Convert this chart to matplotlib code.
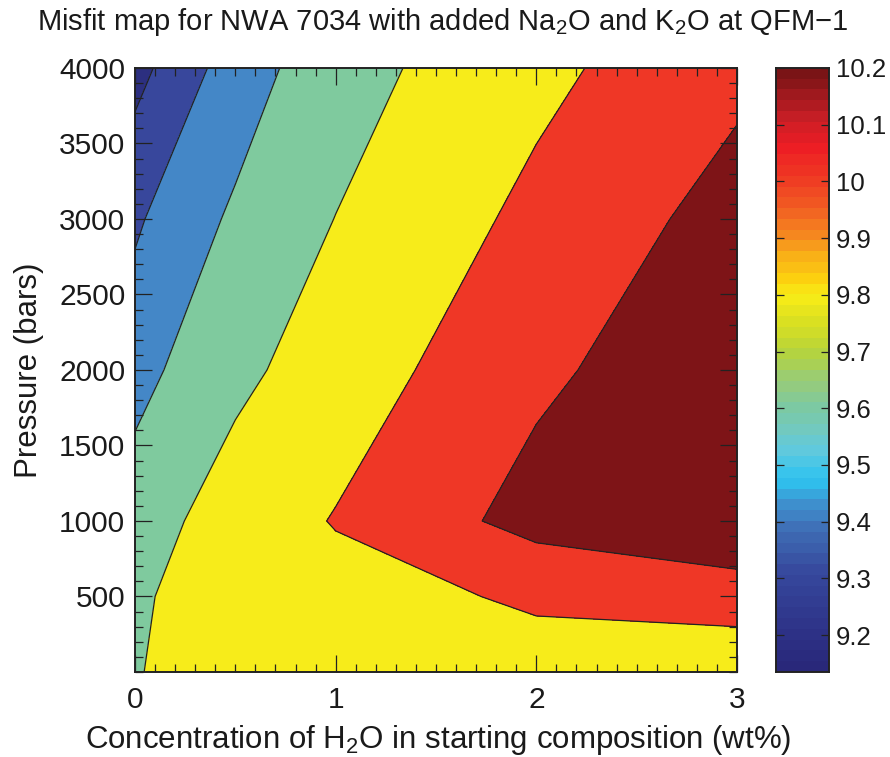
import numpy as np
import matplotlib
matplotlib.use("Agg")
import matplotlib.pyplot as plt
from matplotlib.colors import LinearSegmentedColormap, ListedColormap, BoundaryNorm
from matplotlib.ticker import MultipleLocator

plt.rcParams['font.family'] = ['Liberation Sans', 'DejaVu Sans']
plt.rcParams['mathtext.fontset'] = 'custom'
plt.rcParams['mathtext.rm'] = 'Liberation Sans'
plt.rcParams['mathtext.it'] = 'Liberation Sans'

# grid of water contents (wt%) and pressures (bars)
h2o = [0.0, 0.5, 1.0, 2.0, 3.0]
pressure = [0, 500, 1000, 2000, 3000, 4000]

# misfit values, one row per pressure
misfit_0 = [9.5639, 9.6880, 9.6880, 9.7292, 9.6423]
misfit_500 = [9.5355, 9.7338, 9.7383, 9.8710, 9.9625]
misfit_1000 = [9.4675, 9.6865, 9.8490, 10.1925, 10.3438]
misfit_2000 = [9.3403, 9.5203, 9.6941, 10.0479, 10.2980]
misfit_3000 = [9.2680, 9.4123, 9.5785, 9.8985, 10.2007]
misfit_4000 = [9.1722, 9.3247, 9.4772, 9.7691, 10.0388]

# contour levels and fill colours
levels = [9.0, 9.2, 9.2824, 9.3922, 9.5752, 9.8344, 10.0998, 10.6]
fill_colors = ['#2c2f80', '#38479c', '#4487c7', '#7fca9e', '#f7ec1a', '#ef3726', '#7e1417']

# colour bar scale
cb_min, cb_max = 9.135, 10.2
cb_ticks = [9.2, 9.3, 9.4, 9.5, 9.6, 9.7, 9.8, 9.9, 10.0, 10.1, 10.2]
cb_labels = ['9.2', '9.3', '9.4', '9.5', '9.6', '9.7', '9.8', '9.9', '10', '10.1', '10.2']

Z = np.array([misfit_0, misfit_500, misfit_1000, misfit_2000, misfit_3000, misfit_4000])
X, Y = np.meshgrid(h2o, pressure)

fig = plt.figure(figsize=(8.9, 7.57), dpi=100)
ax = fig.add_axes([0.1517, 0.1123, 0.6764, 0.798])

ax.contourf(X, Y, Z, levels=levels, colors=fill_colors)
ax.contour(X, Y, Z, levels=levels[1:-1], colors='#222222', linewidths=0.9)

ax.set_xlim(0, 3)
ax.set_ylim(0, 4000)
ax.set_xticks([0, 1, 2, 3])
ax.set_yticks([500, 1000, 1500, 2000, 2500, 3000, 3500, 4000])
ax.xaxis.set_minor_locator(MultipleLocator(0.1))
ax.yaxis.set_minor_locator(MultipleLocator(100))
ax.tick_params(which='both', direction='in', top=True, right=True, width=0.9, colors='#222222', labelcolor='#1a1a1a')
ax.tick_params(which='major', length=12, labelsize=21.5)
ax.tick_params(which='minor', length=6)
ax.tick_params(axis='x', which='major', pad=10)
ax.tick_params(axis='y', which='major', pad=7)
for s in ax.spines.values():
    s.set_linewidth(1.4)
    s.set_color('#222222')

ax.set_xlabel('Concentration of H$_2$O in starting composition (wt%)', fontsize=22.5, color='#1a1a1a')
ax.set_ylabel('Pressure (bars)', fontsize=22.5, color='#1a1a1a')
ax.xaxis.set_label_coords(0.503, -0.085)
ax.yaxis.set_label_coords(-0.152, 0.5)
fig.text(0.497, 0.971, 'Misfit map for NWA 7034 with added Na$_2$O and K$_2$O at QFM\u22121',
         ha='center', va='center', fontsize=21, color='#1a1a1a')

# banded colour bar
anchors = [
    (9.135, '#29287a'), (9.2, '#2e3388'), (9.3, '#36479c'), (9.38, '#3f6db5'),
    (9.42, '#3f8ccb'), (9.47, '#2ec3ef'), (9.52, '#5ec9e0'), (9.56, '#72c9c0'),
    (9.6, '#7cc9a2'), (9.65, '#98cc78'), (9.7, '#b6d43a'), (9.75, '#d8df22'),
    (9.8, '#f7ec17'), (9.83, '#fcd20f'), (9.87, '#f9b117'), (9.9, '#f6921e'),
    (9.95, '#f26522'), (10.0, '#ef4123'), (10.07, '#ed1c24'), (10.12, '#c91f26'),
    (10.2, '#7a1416'),
]
pos = [(v - cb_min) / (cb_max - cb_min) for v, _ in anchors]
smooth = LinearSegmentedColormap.from_list('misfit', list(zip(pos, [c for _, c in anchors])))
nband = 56
band_cmap = ListedColormap(smooth(np.linspace(0, 1, nband)))

cax = fig.add_axes([0.872, 0.1123, 0.0596, 0.798])
edges = np.linspace(cb_min, cb_max, nband + 1)
cax.pcolormesh([0, 1], edges, ((edges[:-1] + edges[1:]) / 2)[:, None],
               cmap=band_cmap, norm=BoundaryNorm(edges, nband))
cax.set_xlim(0, 1)
cax.set_ylim(cb_min, cb_max)
cax.set_xticks([])
cax.yaxis.tick_right()
cax.set_yticks(cb_ticks)
cax.set_yticklabels(cb_labels)
cax.tick_params(axis='y', direction='in', left=True, right=True, length=6, width=0.9,
                labelsize=18.5, pad=5, colors='#222222', labelcolor='#1a1a1a')
for s in cax.spines.values():
    s.set_linewidth(1.4)
    s.set_color('#222222')

fig.savefig('out.png', dpi=100)
